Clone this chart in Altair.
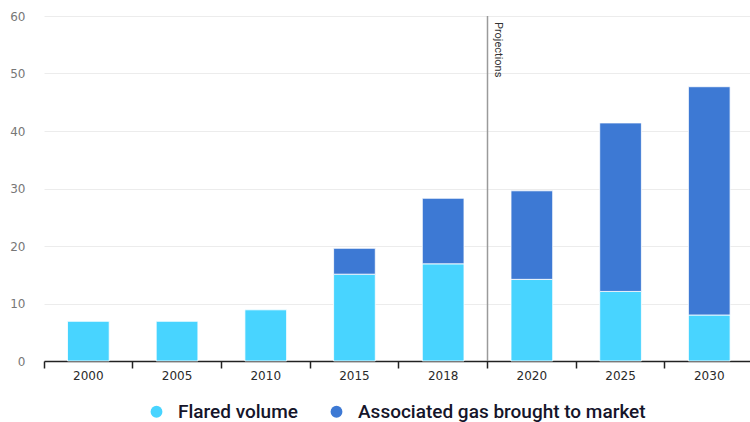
import altair as alt
import pandas as pd

# Volumes of associated gas (bcm) by year
years = ["2000", "2005", "2010", "2015", "2018", "2020", "2025", "2030"]
flared = [6.9, 6.9, 8.9, 15.1, 16.9, 14.2, 12.1, 8.0]
to_market = [0.0, 0.0, 0.0, 4.5, 11.4, 15.4, 29.3, 39.7]

series_names = ["Flared volume", "Associated gas brought to market"]
series_colors = ["#48D4FF", "#3D79D4"]

rows = []
for y, f, m in zip(years, flared, to_market):
    rows.append({"year": y, "series": series_names[0], "value": f, "order": 0})
    if m > 0:
        rows.append({"year": y, "series": series_names[1], "value": m, "order": 1})
df = pd.DataFrame(rows)

proj = pd.DataFrame({"year": ["2020"], "top": [60], "label": ["Projections"]})

# the last band runs a little past the right edge of the view
x_scale = alt.Scale(domain=years, range=[0, 709.6], paddingInner=0, paddingOuter=0)
y_scale = alt.Scale(domain=[0, 60])

bars = alt.Chart(df).mark_bar(
    width=alt.RelativeBandSize(0.47), stroke="white", strokeWidth=0.8
).encode(
    x=alt.X("year:N", scale=x_scale, sort=years,
            axis=alt.Axis(title=None, labelAngle=0, bandPosition=0, grid=False,
                          domainColor="#222", domainWidth=1.5, tickColor="#222",
                          tickWidth=1.5, tickSize=7, labelPadding=2,
                          labelFont="DejaVu Sans", labelFontSize=12,
                          labelColor="#2a2a2a")),
    y=alt.Y("value:Q", stack="zero", scale=y_scale,
            axis=alt.Axis(title=None, values=[0, 10, 20, 30, 40, 50, 60],
                          domain=False, ticks=False, labelPadding=19,
                          gridColor="#ececec", gridWidth=1,
                          labelFont="DejaVu Sans", labelFontSize=12,
                          labelColor="#777")),
    color=alt.Color("series:N",
                    scale=alt.Scale(domain=series_names, range=series_colors),
                    legend=alt.Legend(title=None, orient="none", direction="horizontal",
                                      legendX=103, legendY=386,
                                      symbolType="circle", symbolSize=140,
                                      symbolStrokeWidth=0, labelFont="Roboto",
                                      labelFontSize=19, labelFontWeight=500,
                                      labelColor="#15152a",
                                      labelLimit=500, labelOffset=12,
                                      columnPadding=29)),
    order=alt.Order("order:Q"),
)

rule = alt.Chart(proj).mark_rule(color="#9a9a9a", strokeWidth=1.5).encode(
    x=alt.X("year:N", scale=x_scale, bandPosition=0),
    y=alt.Y("top:Q", scale=y_scale),
    y2=alt.datum(0),
)

label = alt.Chart(proj).mark_text(
    angle=90, align="left", baseline="bottom", dx=6, dy=-5,
    font="Roboto", fontSize=11, color="#333"
).encode(
    x=alt.X("year:N", scale=x_scale, bandPosition=0),
    y=alt.Y("top:Q", scale=y_scale),
    text="label:N",
)

chart = alt.layer(bars, rule, label).properties(
    width=706, height=345,
    autosize=alt.AutoSizeParams(type="none"),
    padding={"left": 44, "top": 16, "right": 0, "bottom": 61},
).configure_view(stroke=None)

chart.save("out.html", embed_options={"renderer": "svg", "actions": False})
